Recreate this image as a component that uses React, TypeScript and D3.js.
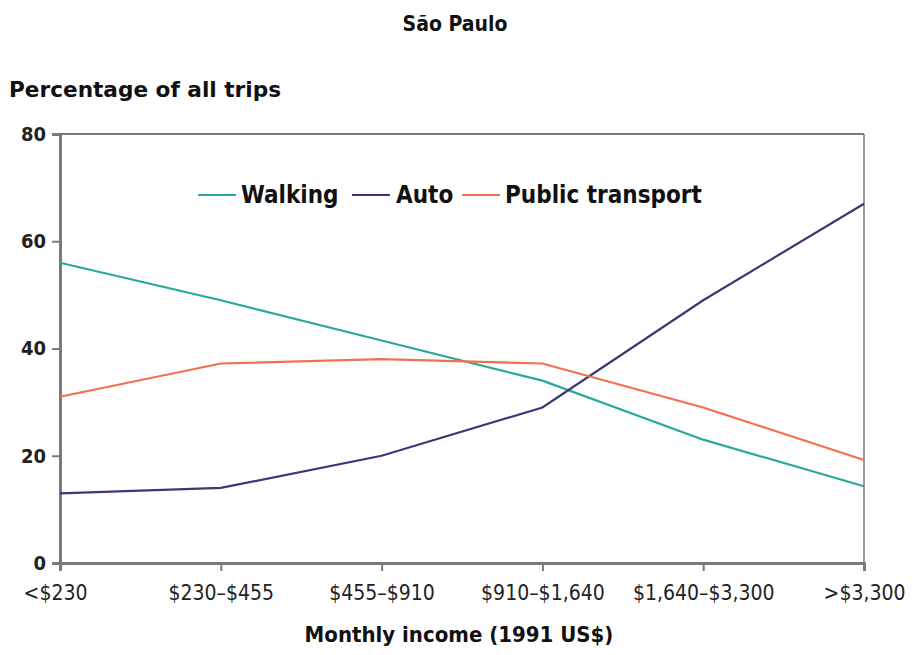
import React, { useEffect, useRef } from "react";
import * as d3 from "d3";

const categories = ["<$230", "$230–$455", "$455–$910", "$910–$1,640", "$1,640–$3,300", ">$3,300"];
const walking = [56, 49, 41.5, 34, 23, 14.3];
const auto = [13, 14, 20, 29, 49, 67];
const publicTransport = [31, 37.2, 38, 37.2, 29, 19.2];
const yTicks = [0, 20, 40, 60, 80];
const seriesNames = ["Walking", "Auto", "Public transport"];
const seriesColors = ["#2aa89c", "#3b3878", "#f2704f"];

const W = 913, H = 655;
const M = { left: 60, right: 864, top: 134, bottom: 563 };
const FONT = "'DejaVu Sans Condensed', 'DejaVu Sans', sans-serif";

export default function App() {
  const ref = useRef<SVGSVGElement>(null);
  useEffect(() => {
    const svg = d3.select(ref.current);
    svg.selectAll("*").remove();
    const x = d3.scalePoint<string>().domain(categories).range([M.left, M.right]);
    const y = d3.scaleLinear().domain([0, 80]).range([M.bottom, M.top]);
    const axisColor = "#7a7a7a";

    svg.append("rect").attr("width", W).attr("height", H).attr("fill", "#fff");

    // frame
    svg.append("line").attr("x1", M.left).attr("x2", M.right).attr("y1", M.top).attr("y2", M.top)
      .attr("stroke", axisColor).attr("stroke-width", 2);
    svg.append("line").attr("x1", M.right).attr("x2", M.right).attr("y1", M.top).attr("y2", M.bottom)
      .attr("stroke", axisColor).attr("stroke-width", 1.5);

    // y axis
    const ya = svg.append("g").attr("transform", `translate(${M.left},0)`)
      .call(d3.axisLeft(y).tickValues(yTicks).tickSize(8).tickPadding(6));
    ya.select(".domain").attr("stroke", axisColor).attr("stroke-width", 3);
    ya.selectAll(".tick line").attr("stroke", axisColor).attr("stroke-width", 2);
    ya.selectAll(".tick text").attr("font-family", FONT).attr("font-size", 20).attr("font-weight", 700)
      .attr("fill", "#222");

    // x axis
    const last = categories.length - 1;
    const xa = svg.append("g").attr("transform", `translate(0,${M.bottom})`)
      .call(d3.axisBottom(x).tickSize(8).tickPadding(14));
    xa.select(".domain").attr("stroke", axisColor).attr("stroke-width", 3);
    xa.selectAll(".tick line").attr("stroke", axisColor).attr("stroke-width", 2);
    xa.selectAll(".tick text").attr("font-family", FONT).attr("font-size", 21)
      .attr("fill", "#222")
      .attr("text-anchor", (_d: any, i: number) => (i === last ? "end" : "middle"))
      .attr("dx", (_d: any, i: number) => (i === 0 ? -5 : i === last ? 41 : 0));

    // lines
    const all = [walking, auto, publicTransport];
    const line = d3.line<number>().x((_d, i) => x(categories[i])!).y(d => y(d));
    all.forEach((s, i) => {
      svg.append("path").attr("d", line(s)!).attr("fill", "none")
        .attr("stroke", seriesColors[i]).attr("stroke-width", 2.2);
    });

    // titles
    svg.append("text").attr("x", 455).attr("y", 31).attr("text-anchor", "middle")
      .attr("font-family", FONT).attr("font-size", 21).attr("font-weight", 700).attr("fill", "#111")
      .text("São Paulo");
    svg.append("text").attr("x", 9).attr("y", 97)
      .attr("font-family", FONT).attr("font-size", 22).attr("font-weight", 700).attr("fill", "#111")
      .attr("textLength", 272).attr("lengthAdjust", "spacingAndGlyphs")
      .text("Percentage of all trips");
    svg.append("text").attr("x", 459).attr("y", 642).attr("text-anchor", "middle")
      .attr("font-family", FONT).attr("font-size", 22).attr("font-weight", 700).attr("fill", "#111")
      .text("Monthly income (1991 US$)");

    // legend
    const legendItems = [
      { lx: 198, tx: 241 },
      { lx: 352, tx: 396 },
      { lx: 462, tx: 505 },
    ];
    legendItems.forEach((p, i) => {
      svg.append("line").attr("x1", p.lx).attr("x2", p.lx + 38).attr("y1", 195).attr("y2", 195)
        .attr("stroke", seriesColors[i]).attr("stroke-width", 2.2);
      svg.append("text").attr("x", p.tx).attr("y", 203)
        .attr("font-family", FONT).attr("font-size", 24).attr("font-weight", 700).attr("fill", "#111")
        .text(seriesNames[i]);
    });
  }, []);
  return <svg ref={ref} width={W} height={H} style={{ display: "block", margin: "-8px" }} />;
}
